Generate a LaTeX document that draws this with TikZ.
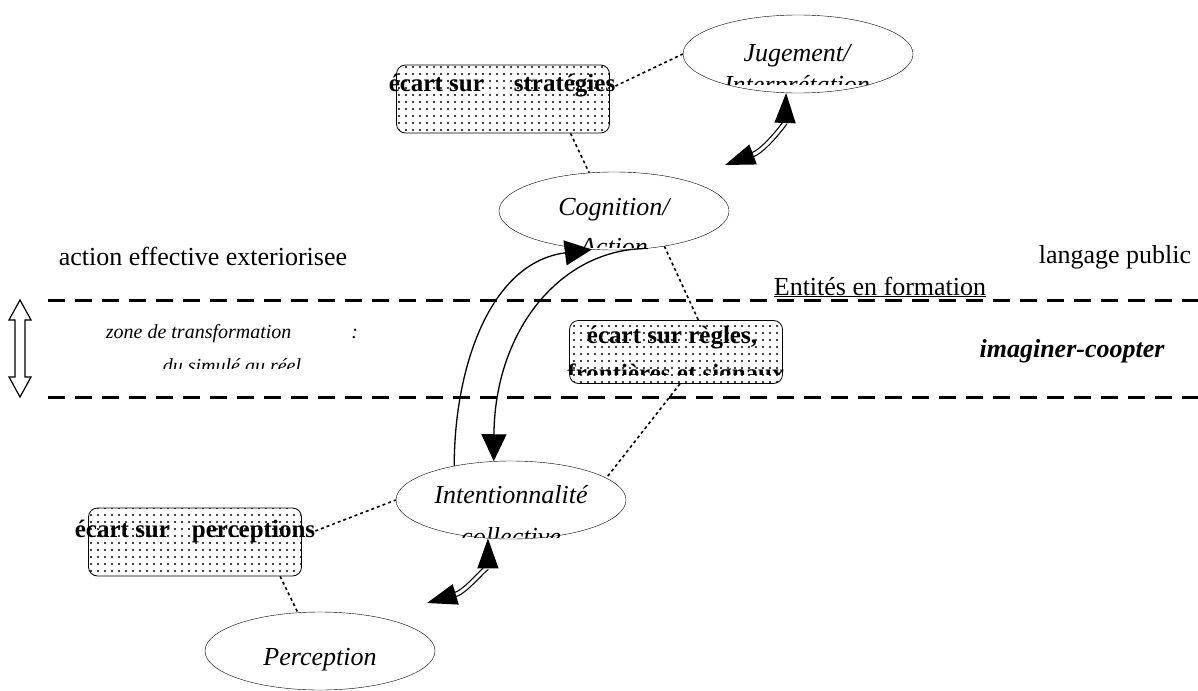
\documentclass[tikz,border=0pt]{standalone}
\usepackage{fontspec}
\setmainfont{Liberation Serif}
\usepackage{tikz}
\usetikzlibrary{shapes.geometric, arrows.meta, patterns.meta, positioning}

\newcommand{\policeA}{\fontsize{26}{30}\selectfont}
\newcommand{\policeB}{\fontsize{25}{28}\selectfont}
\newcommand{\policeC}{\fontsize{20}{24}\selectfont}

\tikzset{
    etat/.style={ellipse, draw, thin, minimum width=230pt, minimum height=78pt, inner sep=0pt},
    ecart/.style={draw, thick, rounded corners=9pt, minimum width=213pt, inner sep=0pt,
        preaction={fill=white}, pattern={Dots[distance=7pt, radius=1.1pt]}},
    texte/.style={inner sep=0pt, anchor=base},
    lien/.style={line width=1.6pt, dash pattern=on 3pt off 3pt},
    frontiere/.style={line width=3pt, dash pattern=on 17pt off 10pt},
    fleche/.style={line width=1.3pt, -{Triangle[length=27pt, width=25pt]}},
    aller/.style={double, double distance=3pt, line width=1.2pt,
        {Triangle[length=30pt, width=21pt]}-{Triangle[length=30pt, width=21pt]}}
}

\begin{document}
\begin{tikzpicture}[x=1pt, y=-1pt, font=\policeA]
    \useasboundingbox (0,0) rectangle (1198,690);

    % 1. Zone de transformation
    \draw[frontiere] (48,300) -- (1198,300);
    \draw[frontiere] (48,397) -- (1198,397);
    \draw[line width=1.2pt] (20,300) -- (31,320) -- (25,320) -- (25,377) -- (31,377) -- (20,397)
        -- (9,377) -- (15,377) -- (15,320) -- (9,320) -- cycle;

    \node[texte] (action) at (203,265) {action effective exteriorisee};
    \node[texte] (public) at (1115,263) {langage public};
    \node[texte] (entites) at (880,295) {\underline{Entités en formation}};
    \node[texte, font=\policeC\itshape] (zone) at (232,338) {zone de transformation\hspace{60pt}:};
    \begin{scope}
        \clip (100,340) rectangle (400,368);
        \node[texte, font=\policeC\itshape] (simule) at (232,372) {du simulé au réel};
    \end{scope}
    \node[texte, font=\policeA\bfseries\itshape] (coop) at (1072,357) {imaginer-coopter};

    % 2. Les etats
    \node[etat] (jug) at (798,54) {};
    \node[texte, font=\policeA\itshape] (jugA) at (797,62) {Jugement/};
    \begin{scope}
        \clip (690,66) rectangle (905,85);
        \node[texte, font=\policeA\itshape] (jugB) at (797,94) {Interprétation};
    \end{scope}

    \node[etat] (cog) at (614,211) {};
    \node[texte, font=\policeA\itshape] (cogA) at (614,215) {Cognition/};
    \begin{scope}
        \clip (520,222) rectangle (710,247);
        \node[texte, font=\policeA\itshape] (cogB) at (614,255) {Action};
    \end{scope}

    \node[etat] (intent) at (511,500) {};
    \node[texte, font=\policeA\itshape] (intentA) at (511,503) {Intentionnalité};
    \begin{scope}
        \clip (420,510) rectangle (600,537);
        \node[texte, font=\policeA\itshape] (intentB) at (511,545) {collective};
    \end{scope}

    \node[etat] (percep) at (320,651) {};
    \node[texte, font=\policeA\itshape] (percepA) at (320,665) {Perception};

    % 3. Les ecarts
    \node[ecart, minimum height=68pt] (strat) at (503,99) {};
    \node[texte, font=\policeB\bfseries] (stratT) at (502,92) {écart sur\hspace{30pt}stratégies};

    \node[ecart, minimum height=63pt] (regles) at (676,352) {};
    \node[texte, font=\policeB\bfseries] (reglesA) at (672,343) {écart sur règles,};
    \begin{scope}
        \clip (560,350) rectangle (790,374);
        \node[texte, font=\policeB\bfseries] (reglesB) at (676,381) {frontières et signaux};
    \end{scope}

    \node[ecart, minimum height=68pt] (percs) at (195,542) {};
    \node[texte, font=\policeB\bfseries] (percsT) at (195,537) {écart sur\hspace{22pt}perceptions};

    % 4. Liens pointilles
    \draw[lien] (stratT.east) -- (jug.west);
    \draw[lien] (strat.-27) -- (cog.123);
    \draw[lien] (cog.-35) -- (regles.55);
    \draw[lien] (regles.-83) -- (intent.13);
    \draw[lien] (percsT.east) -- (intent.west);
    \draw[lien] (percs.-22) -- (percep.120);

    % 5. Fleches
    \draw[fleche] (intent.149) .. controls +(0,-98) and +(-102,13) .. (cog.-120);
    \draw[fleche] (cog.-48) .. controls +(-87,0) and +(1,-131) .. (intent.114);

    \coordinate (bout1) at (725,165);
    \coordinate (bout2) at (427,603);
    \draw[aller] (bout1) .. controls +(40,-15) and +(-1,30) .. (jug.-107);
    \draw[aller] (bout2) .. controls +(40,-12) and +(0,25) .. (intent.-121);
\end{tikzpicture}
\end{document}
